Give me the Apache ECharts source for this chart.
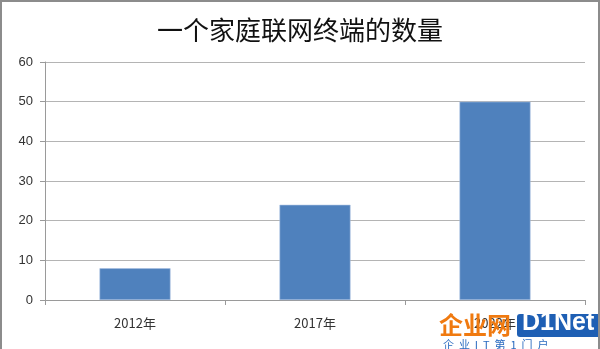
<!DOCTYPE html>
<html><head><meta charset="utf-8">
<script src="https://cdn.jsdelivr.net/npm/echarts@6/dist/echarts.min.js"></script>
<style>html,body{margin:0;padding:0;background:#fff}#c{width:600px;height:349px;box-sizing:border-box;border:2px solid #8c8c8c;border-bottom:none}</style>
</head><body><div id="c"></div>
<script>
var titleText = '一个家庭联网终端的数量';
var categories = ['2012年', '2017年', '2022年'];
var values = [8, 24, 50];
var yTicks = {min: 0, max: 60, interval: 10};

var chart = echarts.init(document.getElementById('c'), null, {renderer: 'canvas'});
chart.setOption({
  animation: false,
  title: {text: titleText, left: 'center', top: 10,
    textStyle: {fontFamily: 'Noto Sans CJK SC', fontSize: 26, fontWeight: 'normal', color: '#111'}},
  grid: {left: 43, right: 13, top: 60, bottom: 49, containLabel: false},
  xAxis: {type: 'category', data: categories,
    axisLine: {lineStyle: {color: '#9a9a9a'}},
    axisTick: {show: true, length: 5, alignWithLabel: false, lineStyle: {color: '#9a9a9a'}},
    axisLabel: {color: '#333', fontSize: 13, margin: 17, fontFamily: 'Noto Sans CJK SC'}},
  yAxis: {type: 'value', min: yTicks.min, max: yTicks.max, interval: yTicks.interval,
    axisLine: {show: true, lineStyle: {color: '#9a9a9a'}},
    axisTick: {show: true, length: 5, lineStyle: {color: '#9a9a9a'}},
    splitLine: {lineStyle: {color: '#b4b4b4'}},
    axisLabel: {color: '#333', fontSize: 13, margin: 12, fontFamily: 'Liberation Sans'}},
  series: [{type: 'bar', data: values, barWidth: 71,
    itemStyle: {color: '#4f81bd', borderColor: '#a8c0e0', borderWidth: 0.6}}],
  graphic: [
    {type: 'text', left: 437, top: 311, z: 100,
      style: {text: '企业网', font: 'bold 24px "Noto Sans CJK SC"', fill: '#f07a10'}},
    {type: 'rect', left: 515, top: 312, z: 100, shape: {width: 83, height: 23, r: 3}, style: {fill: '#1e5fb4'}},
    {type: 'text', left: 520, top: 309, z: 101,
      style: {text: 'D1Net', font: 'bold 25px "Liberation Sans"', fill: '#fff'}},
    {type: 'text', left: 441, top: 337, z: 100,
      style: {text: '企  业  I  T  第  1  门  户', font: '11px "Noto Sans CJK SC"', fill: '#2a6bc0'}}
  ]
});
</script></body></html>
